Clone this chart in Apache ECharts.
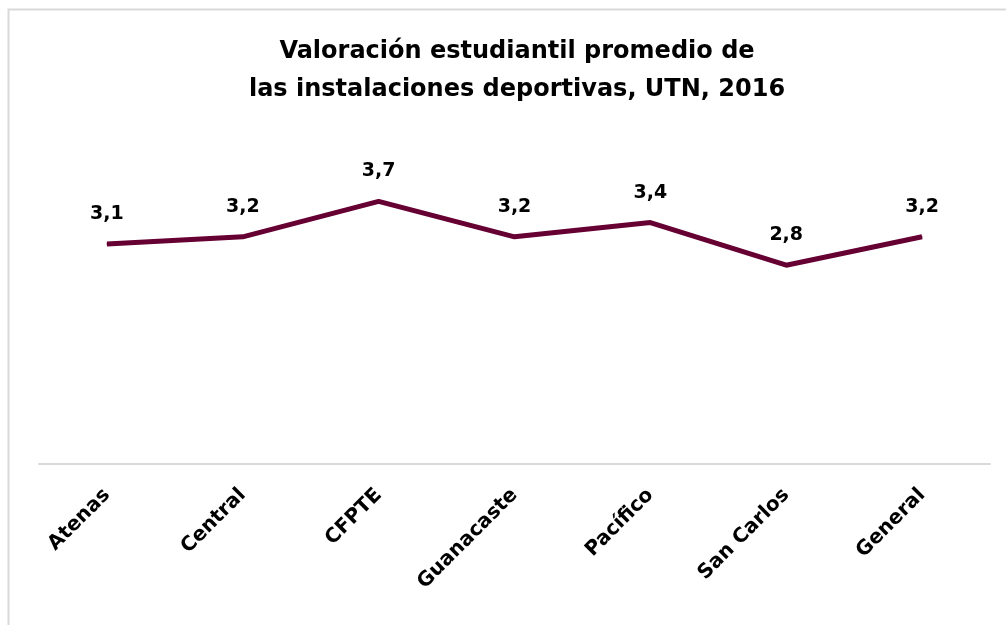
<!DOCTYPE html>
<html><head><meta charset="utf-8">
<script src="https://cdn.jsdelivr.net/npm/echarts@6/dist/echarts.min.js"></script>
<style>html,body{margin:0;padding:0;background:#fff}#c{width:1006px;height:625px}</style>
</head><body><div id="c"></div>
<script>
var categories = ['Atenas','Central','CFPTE','Guanacaste','Pacífico','San Carlos','General'];
var values = [3.1, 3.2, 3.7, 3.2, 3.4, 2.8, 3.2];
var titleLines = ['Valoración estudiantil promedio de', 'las instalaciones deportivas, UTN, 2016'];
var font = '"DejaVu Sans",sans-serif';
var chart = echarts.init(document.getElementById('c'));
chart.setOption({
  animation: false,
  graphic: [{type:'rect', shape:{x:8.5,y:9.5,width:1010,height:630}, style:{fill:'none',stroke:'#d9d9d9',lineWidth:2}}],
  title: {text: titleLines.join('\n'), left: 512, top: 28, textAlign: 'center',
    textStyle: {fontFamily: font, fontWeight: 'bold', fontSize: 24, lineHeight: 38, color: '#000'}},
  grid: {left: 39, right: 16, top: 180, bottom: 161},
  xAxis: {type:'category', data: categories, boundaryGap: true,
    axisLine:{lineStyle:{color:'#d9d9d9', width:2}}, axisTick:{show:false},
    axisLabel:{rotate:45, margin:28, fontFamily: font, fontWeight:'bold', fontSize:20, color:'#000', interval:0}},
  yAxis: {type:'value', min:0, max:4, show:false, splitLine:{show:false}},
  series: [{type:'line', data: values, symbol:'circle', symbolSize:1, showSymbol:true,
    itemStyle:{color:'#660033'}, lineStyle:{color:'#660033', width:5},
    label:{show:true, position:'top', distance:20, fontFamily: font, fontWeight:'bold', fontSize:19, color:'#000',
      formatter: function(p){return Number(p.value).toFixed(1).replace('.', ',');}}}]
});
</script></body></html>
